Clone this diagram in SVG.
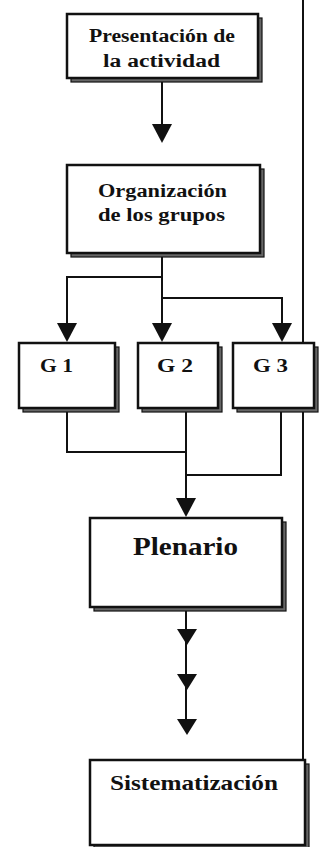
<svg xmlns="http://www.w3.org/2000/svg" xmlns:xlink="http://www.w3.org/1999/xlink" width="323" height="847" viewBox="0 0 323 847">
<style>
.box{fill:#fff;stroke:#111;stroke-width:2.5}
.sh{fill:#666;stroke:#111;stroke-width:1.2}
.ln{fill:none;stroke:#111;stroke-width:2}
.t{font-family:"Liberation Serif","Times New Roman",serif;font-weight:bold;fill:#111;text-anchor:start}
.ah{fill:#111}
</style>
<defs>
<path id="ah" d="M-10,-19 L10,-19 L0,0 Z"/>
<path id="ahs" d="M-10,-16 L10,-16 L0,0 Z"/>
</defs>
<rect width="323" height="847" fill="#fff"/>
<g id="connectors">
<line class="ln" x1="303" y1="0" x2="303" y2="760"/>
<line class="ln" x1="162" y1="80" x2="162" y2="130"/>
<use href="#ah" class="ah" x="162" y="143"/>
<polyline class="ln" points="162,255 162,330"/>
<polyline class="ln" points="162,277 67,277 67,330"/>
<polyline class="ln" points="162,298 282,298 282,330"/>
<use href="#ah" class="ah" x="67" y="342"/>
<use href="#ah" class="ah" x="162" y="342"/>
<use href="#ah" class="ah" x="282" y="342"/>
<polyline class="ln" points="67,410 67,452 186,452"/>
<polyline class="ln" points="281,410 281,475 186,475"/>
<polyline class="ln" points="186,410 186,505"/>
<use href="#ah" class="ah" x="186" y="517"/>
<line class="ln" x1="186" y1="610" x2="186" y2="725"/>
<use href="#ahs" class="ah" x="187" y="645"/>
<use href="#ahs" class="ah" x="187" y="690"/>
<use href="#ahs" class="ah" x="187" y="735"/>
</g>
<g id="presentacion">
<rect class="sh" x="71" y="18" width="191" height="64"/>
<rect class="box" x="67" y="14" width="191" height="64"/>
<text class="t" x="89" y="42" font-size="18" textLength="146" lengthAdjust="spacingAndGlyphs">Presentación de</text>
<text class="t" x="103" y="67" font-size="18" textLength="117" lengthAdjust="spacingAndGlyphs">la actividad</text>
</g>
<g id="organizacion">
<rect class="sh" x="71" y="169" width="193" height="88"/>
<rect class="box" x="67" y="165" width="193" height="88"/>
<text class="t" x="98" y="197" font-size="18" textLength="129" lengthAdjust="spacingAndGlyphs">Organización</text>
<text class="t" x="98" y="221" font-size="18" textLength="127" lengthAdjust="spacingAndGlyphs">de los grupos</text>
</g>
<g id="g1">
<rect class="sh" x="23" y="347" width="96" height="65"/>
<rect class="box" x="19" y="343" width="96" height="65"/>
<text class="t" x="40" y="372" font-size="19" textLength="33" lengthAdjust="spacingAndGlyphs">G 1</text>
</g>
<g id="g2">
<rect class="sh" x="142" y="347" width="80" height="65"/>
<rect class="box" x="138" y="343" width="80" height="65"/>
<text class="t" x="157" y="372" font-size="19" textLength="36" lengthAdjust="spacingAndGlyphs">G 2</text>
</g>
<g id="g3">
<rect class="sh" x="237" y="347" width="81" height="65"/>
<rect class="box" x="233" y="343" width="81" height="65"/>
<text class="t" x="253" y="372" font-size="19" textLength="35" lengthAdjust="spacingAndGlyphs">G 3</text>
</g>
<g id="plenario">
<rect class="sh" x="94" y="522" width="192" height="89"/>
<rect class="box" x="90" y="518" width="192" height="89"/>
<text class="t" x="133" y="555" font-size="25" textLength="105" lengthAdjust="spacingAndGlyphs">Plenario</text>
</g>
<g id="sistematizacion">
<rect class="sh" x="94" y="764" width="215" height="85"/>
<rect class="box" x="90" y="760" width="215" height="85"/>
<text class="t" x="110" y="790" font-size="21" textLength="168" lengthAdjust="spacingAndGlyphs">Sistematización</text>
</g>
</svg>
